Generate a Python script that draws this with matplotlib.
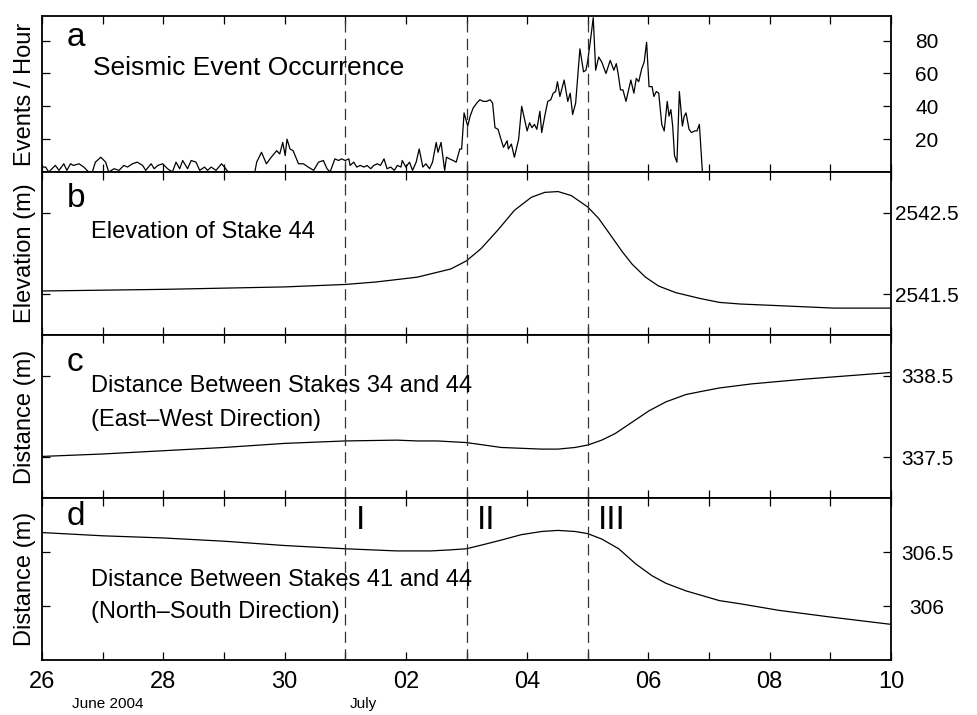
import numpy as np
import matplotlib
matplotlib.use("Agg")
import matplotlib.pyplot as plt

plt.rcParams['font.family'] = ['Liberation Sans', 'DejaVu Sans']

# time axis: days after 26 June 2004 00:00
day_ticks = list(range(0, 15))
day_labels = ['26', '', '28', '', '30', '', '02', '', '04', '', '06', '', '08', '', '10']
phase_days = [5, 7, 9]
phase_names = ['I', 'II', 'III']

# a) seismic events per hour (nan = data gap)
seis_t = [0.00, 0.06, 0.11, 0.22, 0.28, 0.36, 0.41, 0.47, 0.52, 0.61, 0.69, 0.77, 0.83, 0.88, 0.97,
          1.05, 1.10, 1.19, 1.27, 1.35, 1.41, 1.49, 1.57, 1.66, 1.71, 1.80, 1.85, 1.91, 1.99,
          2.07, 2.15, 2.21, 2.27, 2.32, 2.40, 2.46, 2.54, 2.60, 2.68, 2.73, 2.79, 2.87, 2.96,
          3.01, 3.07, 3.30, 3.51, 3.54, 3.62, 3.70, 3.78, 3.87, 3.92, 3.97, 4.01, 4.04, 4.09,
          4.14, 4.23, 4.31, 4.39, 4.48, 4.56, 4.64, 4.70, 4.75, 4.83, 4.89, 4.94,
          5.00, 5.06, 5.08, 5.14, 5.19, 5.25, 5.31, 5.36, 5.42, 5.47, 5.53, 5.58, 5.64, 5.69,
          5.75, 5.81, 5.86, 5.92, 5.94, 6.00, 6.06, 6.11, 6.17, 6.22, 6.28, 6.33, 6.39, 6.44,
          6.50, 6.53, 6.58, 6.64, 6.67, 6.72, 6.78, 6.83, 6.89, 6.92, 6.96, 7.02, 7.06, 7.11,
          7.17, 7.22, 7.28, 7.33, 7.39, 7.43, 7.47, 7.52, 7.56, 7.61, 7.67, 7.69, 7.74, 7.79,
          7.86, 7.91, 8.00, 8.04, 8.08, 8.12, 8.16, 8.21, 8.24, 8.29, 8.34, 8.39, 8.43, 8.47,
          8.50, 8.54, 8.61, 8.67, 8.71, 8.75, 8.80, 8.87, 8.93, 8.97, 9.00, 9.04, 9.09, 9.13,
          9.18, 9.23, 9.30, 9.37, 9.43, 9.47, 9.50, 9.54, 9.58, 9.63, 9.71, 9.76, 9.80, 9.84,
          9.89, 9.93, 9.97, 10.01, 10.06, 10.09, 10.13, 10.17, 10.22, 10.26, 10.31, 10.34,
          10.37, 10.40, 10.43, 10.47, 10.51, 10.56, 10.59, 10.62, 10.67, 10.71, 10.76, 10.80,
          10.84, 10.89]
seis_v = [3, 3, 0, 4, 1, 5, 1, 5, 4, 5, 3, 0, 0, 6, 9,
          6, 0, 2, 1, 4, 3, 5, 6, 4, 1, 5, 2, 4, 5,
          2, 0, 6, 2, 7, 2, 7, 6, 1, 3, 1, 3, 1, 5,
          3, 0, np.nan, 0, 6, 12, 5, 9, 13, 11, 18, 10, 20, 14,
          13, 5, 5, 3, 1, 6, 7, 2, 0, 8, 7, 8,
          7, 8, 4, 6, 3, 4, 3, 4, 2, 4, 5, 4, 8, 2,
          3, 1, 4, 3, 7, 3, 6, 1, 6, 14, 3, 5, 2, 6,
          18, 12, 18, 1, 9, 8, 7, 6, 14, 14, 36, 28, 34, 39,
          42, 44, 43, 43, 44, 42, 27, 26, 21, 15, 19, 14, 17, 9,
          20, 40, 25, 30, 27, 29, 26, 37, 24, 34, 43, 44, 48, 49,
          55, 46, 56, 43, 48, 35, 42, 75, 61, 62, 68, 79, 94, 62,
          70, 67, 60, 68, 62, 66, 60, 50, 50, 43, 56, 48, 57, 55,
          63, 67, 79, 52, 52, 46, 49, 48, 29, 25, 43, 34,
          38, 28, 10, 6, 49, 28, 34, 36, 26, 24, 25, 25,
          29, 0]

# b) elevation of stake 44 (m)
elev_t = [0.0, 2.0, 4.0, 5.0, 5.5, 5.85, 6.19, 6.52, 6.74, 7.0, 7.24, 7.52, 7.79, 8.07, 8.29,
          8.51, 8.73, 9.0, 9.18, 9.4, 9.57, 9.73, 9.95, 10.17, 10.45, 10.84, 11.17, 11.52,
          12.15, 13.06, 14.0]
elev_v = [2541.54, 2541.56, 2541.59, 2541.62, 2541.65, 2541.68, 2541.71, 2541.77, 2541.81,
          2541.91, 2542.06, 2542.29, 2542.53, 2542.69, 2542.75, 2542.76, 2542.71, 2542.57,
          2542.43, 2542.20, 2542.02, 2541.87, 2541.71, 2541.60, 2541.52, 2541.45, 2541.40,
          2541.38, 2541.36, 2541.33, 2541.33]

# c) distance stakes 34-44, east-west (m)
ew_t = [0.0, 1.0, 2.0, 3.0, 4.0, 5.0, 5.85, 6.19, 6.52, 7.0, 7.29, 7.57, 7.9, 8.24, 8.51,
        8.79, 9.0, 9.23, 9.45, 9.73, 10.01, 10.29, 10.62, 10.89, 11.17, 11.7, 12.6, 14.0]
ew_v = [337.51, 337.54, 337.58, 337.62, 337.67, 337.70, 337.71, 337.70, 337.70, 337.68,
        337.65, 337.62, 337.61, 337.60, 337.60, 337.62, 337.65, 337.71, 337.79, 337.93,
        338.07, 338.18, 338.27, 338.31, 338.35, 338.40, 338.46, 338.54]

# d) distance stakes 41-44, north-south (m)
ns_t = [0.0, 1.0, 2.0, 3.0, 4.0, 5.0, 5.85, 6.41, 6.74, 7.0, 7.29, 7.57, 7.9, 8.24, 8.51,
        8.79, 9.0, 9.23, 9.51, 9.79, 10.06, 10.29, 10.62, 11.17, 11.52, 12.15, 12.97, 14.0]
ns_v = [306.68, 306.65, 306.63, 306.60, 306.56, 306.53, 306.51, 306.51, 306.52, 306.53,
        306.57, 306.61, 306.66, 306.69, 306.70, 306.69, 306.67, 306.62, 306.53, 306.39,
        306.28, 306.21, 306.14, 306.05, 306.02, 305.96, 305.90, 305.83]

fig = plt.figure(figsize=(9.77, 7.15), dpi=100)
W, H = 977, 715
left, right = 42, 891
rows = [(16, 172), (172, 335), (335, 498), (498, 660)]
axes = []
for top, bot in rows:
    ax = fig.add_axes([left / W, 1 - bot / H, (right - left) / W, (bot - top) / H])
    axes.append(ax)

series = [(seis_t, seis_v), (elev_t, elev_v), (ew_t, ew_v), (ns_t, ns_v)]
ylims = [(0, 95), (2541.0, 2543.0), (337.0, 339.0), (305.5, 307.0)]
yticks = [[20, 40, 60, 80], [2541.5, 2542.5], [337.5, 338.5], [306, 306.5]]
ytlabels = [['20', '40', '60', '80'], ['2541.5', '2542.5'], ['337.5', '338.5'], ['306', '306.5']]
ylabels = ['Events / Hour', 'Elevation (m)', 'Distance (m)', 'Distance (m)']

for i, ax in enumerate(axes):
    t, v = series[i]
    ax.plot(t, v, color='black', lw=0.9)
    for d in phase_days:
        ax.axvline(d, color='#333333', lw=0.9, ls=(0, (9, 5)))
    ax.set_xlim(0, 14)
    ax.set_ylim(*ylims[i])
    ax.set_xticks(day_ticks)
    ax.set_yticks(yticks[i])
    ax.set_yticklabels(ytlabels[i])
    ax.tick_params(axis='both', direction='in', length=6, width=0.9, labelsize=15,
                   top=True, bottom=True, left=True, right=True,
                   labelleft=False, labelright=True)
    ax.tick_params(axis='y', pad=26)
    for lab in ax.get_yticklabels():
        lab.set_ha('center')
    for s in ax.spines.values():
        s.set_linewidth(1.3)
    if i < 3:
        ax.set_xticklabels([])
    else:
        ax.set_xticklabels(day_labels, fontsize=17)
        ax.tick_params(axis='x', pad=8)
    yc = 1 - (rows[i][0] + rows[i][1]) / 2 / H
    fig.text(25 / W, yc, ylabels[i], rotation=90, ha='center', va='center', fontsize=17)

letter_y = [0.859, 0.84, 0.834, 0.883]
for ax, lt, ly in zip(axes, 'abcd', letter_y):
    ax.text(0.029, ly, lt, transform=ax.transAxes, fontsize=24, va='center', ha='left')

axes[0].text(0.06, 0.667, 'Seismic Event Occurrence', transform=axes[0].transAxes,
             fontsize=19, va='center')
axes[1].text(0.058, 0.632, 'Elevation of Stake 44', transform=axes[1].transAxes,
             fontsize=17, va='center')
axes[2].text(0.058, 0.687, 'Distance Between Stakes 34 and 44', transform=axes[2].transAxes,
             fontsize=17, va='center')
axes[2].text(0.058, 0.479, '(East\u2013West Direction)', transform=axes[2].transAxes,
             fontsize=17, va='center')
axes[3].text(0.058, 0.494, 'Distance Between Stakes 41 and 44', transform=axes[3].transAxes,
             fontsize=17, va='center')
axes[3].text(0.058, 0.296, '(North\u2013South Direction)', transform=axes[3].transAxes,
             fontsize=17, va='center')

for d, name in zip(phase_days, phase_names):
    axes[3].text(d + 0.17, 0.864, name, transform=axes[3].get_xaxis_transform(),
                 fontsize=24, va='center', ha='left')

axes[3].text(0.5, -0.27, 'June 2004', transform=axes[3].get_xaxis_transform(),
             fontsize=11, va='center', ha='left')
axes[3].text(5.08, -0.27, 'July', transform=axes[3].get_xaxis_transform(),
             fontsize=11, va='center', ha='left')

fig.savefig('out.png', dpi=100)
